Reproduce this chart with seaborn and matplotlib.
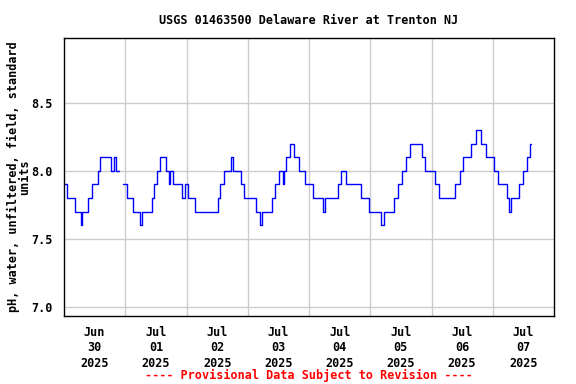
import numpy as np
import pandas as pd
import matplotlib
matplotlib.use("Agg")
import matplotlib.pyplot as plt
import seaborn as sns

# ---- data (hours since 2025-06-30 00:00, value holds until next change) ----
change_hours = [
    0.0, 1.2, 4.3, 6.5, 7.2, 9.4, 11.0, 13.3, 14.0, 18.4, 19.6, 20.5, 21.5,
    23.3, 24.5, 27.2, 29.7, 30.5, 34.4, 35.4, 36.5, 37.5, 40.1, 41.0, 41.5,
    42.6, 46.3, 47.5, 48.5, 51.5, 60.3, 61.2, 62.8, 65.6, 66.4, 69.3, 70.5,
    75.4, 76.8, 77.6, 81.5, 82.8, 84.4, 85.8, 86.3, 86.9, 88.7, 90.3, 92.2,
    94.3, 97.5, 101.4, 102.3, 107.3, 108.6, 110.5, 116.5, 119.5, 124.3, 125.2,
    129.5, 131.0, 132.5, 134.2, 135.6, 140.3, 141.3, 145.3, 147.0, 153.2,
    155.3, 156.4, 159.3, 161.5, 163.3, 165.3, 168.4, 170.2, 173.5, 174.5,
    175.3, 178.3, 179.7, 181.3, 182.7,
]
ph_values = [
    7.9, 7.8, 7.7, 7.6, 7.7, 7.8, 7.9, 8.0, 8.1, 8.0, 8.1, 8.0, np.nan,
    7.9, 7.8, 7.7, 7.6, 7.7, 7.8, 7.9, 8.0, 8.1, 8.0, 7.9, 8.0,
    7.9, 7.8, 7.9, 7.8, 7.7, 7.8, 7.9, 8.0, 8.1, 8.0, 7.9, 7.8,
    7.7, 7.6, 7.7, 7.8, 7.9, 8.0, 7.9, 8.0, 8.1, 8.2, 8.1, 8.0,
    7.9, 7.8, 7.7, 7.8, 7.9, 8.0, 7.9, 7.8, 7.7, 7.6, 7.7,
    7.8, 7.9, 8.0, 8.1, 8.2, 8.1, 8.0, 7.9, 7.8, 7.9,
    8.0, 8.1, 8.2, 8.3, 8.2, 8.1, 8.0, 7.9, 7.8, 7.7,
    7.8, 7.9, 8.0, 8.1, 8.2,
]
end_hour = 183.0
day_labels = ["Jun\n30\n2025", "Jul\n01\n2025", "Jul\n02\n2025", "Jul\n03\n2025",
              "Jul\n04\n2025", "Jul\n05\n2025", "Jul\n06\n2025", "Jul\n07\n2025"]
y_ticks = [7.0, 7.5, 8.0, 8.5]
title = "USGS 01463500 Delaware River at Trenton NJ"
ylabel = "pH, water, unfiltered, field, standard\nunits"
footer = "---- Provisional Data Subject to Revision ----"

# ---- build table ----
start = pd.Timestamp("2025-06-30 00:00")
hrs = np.array(change_hours, float)
vals = np.array(ph_values, float)
seg = np.cumsum(np.isnan(vals))
rows = []
for i in range(len(vals)):
    if np.isnan(vals[i]):
        continue
    rows.append((hrs[i], vals[i], seg[i]))
    if i + 1 >= len(vals):
        rows.append((end_hour, vals[i], seg[i]))
    elif np.isnan(vals[i + 1]):
        rows.append((hrs[i + 1], vals[i], seg[i]))
df = pd.DataFrame(rows, columns=["h", "ph", "segment"])
df["time"] = start + pd.to_timedelta(df["h"], unit="h")

# ---- plot ----
sns.set_style("white")
plt.rcParams["font.family"] = ["DejaVu Sans Mono"]
plt.rcParams["font.weight"] = "bold"
for key in ["text.color", "axes.labelcolor", "xtick.color", "ytick.color"]:
    plt.rcParams[key] = "black"

fig = plt.figure(figsize=(5.76, 3.84), dpi=100)
ax = fig.add_axes([64 / 576, 1 - 316 / 384, (554 - 64) / 576, (316 - 38) / 384])

sns.lineplot(data=df, x="time", y="ph", units="segment", estimator=None,
             color="#0000ff", lw=1.0, drawstyle="steps-post", legend=False, ax=ax)

ax.set_xlim(start, start + pd.Timedelta(days=8))
ax.set_ylim(6.934, 8.975)

noon = [start + pd.Timedelta(hours=12 + 24 * k) for k in range(8)]
mid = [start + pd.Timedelta(days=k) for k in range(1, 8)]
ax.set_xticks(noon)
ax.set_xticklabels(day_labels, fontsize=8.5, fontweight="bold", linespacing=1.25,
                   color="black")
ax.set_xticks(mid, minor=True)
ax.set_yticks(y_ticks)
ax.set_yticklabels([f"{v:.1f}" for v in y_ticks], fontsize=8.5, fontweight="bold",
                   color="black")

ax.grid(False)
ax.grid(True, which="minor", axis="x", color="#cccccc", lw=1)
ax.grid(True, which="major", axis="y", color="#cccccc", lw=1)
ax.set_axisbelow(True)
ax.tick_params(axis="both", which="both", length=0)
ax.tick_params(axis="x", pad=7)
ax.tick_params(axis="y", pad=8)

for s in ax.spines.values():
    s.set_color("black")
    s.set_linewidth(1.0)

ax.set_xlabel("")
ax.set_ylabel(ylabel, fontsize=8.5, fontweight="bold", linespacing=0.9, labelpad=0,
              color="black")

fig.text(309 / 576, 1 - 20 / 384, title, ha="center", va="center",
         fontsize=8.5, fontweight="bold", color="black")
fig.text(309 / 576, 1 - 375 / 384, footer, ha="center", va="center",
         fontsize=8.5, fontweight="bold", color="red")

fig.savefig("out.png", dpi=100)
